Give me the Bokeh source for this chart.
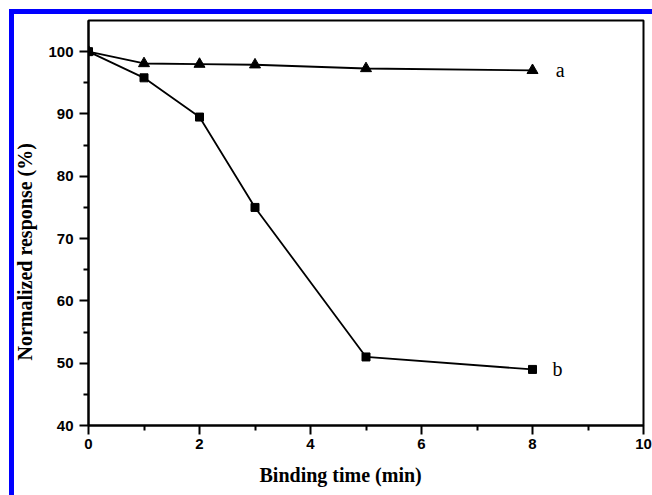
from bokeh.plotting import figure
from bokeh.models import Range1d, FixedTicker, Title
from bokeh.embed import file_html
from bokeh.resources import INLINE
from bokeh.core.properties import value

# data
time_a = [0, 1, 2, 3, 5, 8]
resp_a = [100, 98.1, 98.0, 97.9, 97.3, 97.0]
time_b = [0, 1, 2, 3, 5, 8]
resp_b = [100, 95.8, 89.5, 75.0, 51.0, 49.0]
series_labels = ["a", "b"]
x_ticks = [0, 2, 4, 6, 8, 10]
x_minor = [1, 3, 5, 7, 9]
y_ticks = [40, 50, 60, 70, 80, 90, 100]
y_minor = [45, 55, 65, 75, 85, 95]
x_title = "Binding time (min)"
y_title = "Normalized response (%)"

p = figure(width=652, height=495, output_backend="svg", toolbar_location=None,
           x_range=Range1d(0, 10), y_range=Range1d(40, 105),
           min_border_left=88, min_border_right=9, min_border_top=20, min_border_bottom=62)

p.xgrid.visible = False
p.ygrid.visible = False
p.outline_line_color = "black"
p.outline_line_width = 2
p.background_fill_color = "white"
p.border_fill_color = None
p.styles = {
    "background-color": "white",
    "background-image": "linear-gradient(#0000ff, #0000ff), linear-gradient(#0000ff, #0000ff)",
    "background-size": "660px 5px, 5px 500px",
    "background-position": "9px 9px, 9px 9px",
    "background-repeat": "no-repeat",
}

p.xaxis.ticker = FixedTicker(ticks=x_ticks, minor_ticks=x_minor)
p.yaxis.ticker = FixedTicker(ticks=y_ticks, minor_ticks=y_minor)
for ax in (p.xaxis[0], p.yaxis[0]):
    ax.axis_line_width = 2
    ax.axis_line_color = "black"
    ax.major_tick_line_width = 2
    ax.minor_tick_line_width = 2
    ax.major_tick_in = 0
    ax.major_tick_out = 9
    ax.minor_tick_in = 0
    ax.minor_tick_out = 5
    ax.major_label_text_font = "Liberation Sans"
    ax.major_label_text_font_style = "bold"
    ax.major_label_text_font_size = "15px"
    ax.major_label_text_color = "black"
p.xaxis.major_label_standoff = 4
p.yaxis.major_label_standoff = 6

p.add_layout(Title(text=x_title, align="left", offset=171, standoff=20,
                   text_font="Liberation Serif", text_font_style="bold", text_font_size="20px",
                   text_color="black"), "below")
p.add_layout(Title(text=y_title, align="left", offset=65, standoff=20,
                   text_font="Liberation Serif", text_font_style="bold", text_font_size="20px",
                   text_color="black"), "left")

p.line(time_a, resp_a, line_color="black", line_width=1.8)
p.scatter(time_a, resp_a, marker="triangle", size=11, fill_color="black", line_color="black")
p.line(time_b, resp_b, line_color="black", line_width=1.8)
p.scatter(time_b, resp_b, marker="square", size=8, fill_color="black", line_color="black")

p.text(x=[time_a[-1] + 0.5, time_b[-1] + 0.45], y=[resp_a[-1], resp_b[-1]], text=series_labels,
       text_font=value("Liberation Serif"), text_font_size="20px", text_color="black",
       text_baseline="middle", text_align="center")

open("out.html", "w").write(file_html(p, INLINE))
